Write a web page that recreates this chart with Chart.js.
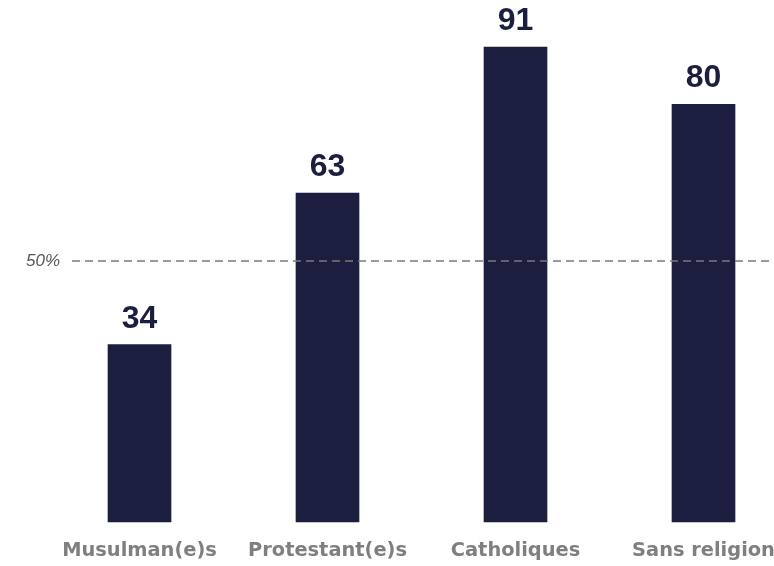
<!DOCTYPE html>
<html>
<head>
<meta charset="utf-8">
<script src="https://cdn.jsdelivr.net/npm/chart.js@4.4.1/dist/chart.umd.min.js"></script>
<style>
  html, body { margin: 0; padding: 0; background: #fff; }
  #wrap { width: 774px; height: 566px; }
</style>
</head>
<body>
<div id="wrap"><canvas id="myChart"></canvas></div>
<script>
// données
const categories = ['Musulman(e)s', 'Protestant(e)s', 'Catholiques', 'Sans religion'];
const values = [34, 63, 91, 80];
const refValue = 50;
const refLabel = '50%';

// ligne pointillée à 50% + étiquettes de valeur
const overlayPlugin = {
  id: 'overlay',
  afterDatasetsDraw(chart) {
    const { ctx, scales } = chart;
    const y = scales.y.getPixelForValue(refValue);
    ctx.save();
    ctx.strokeStyle = '#7a7a7a';
    ctx.lineWidth = 1.5;
    ctx.setLineDash([8, 5]);
    ctx.beginPath();
    ctx.moveTo(72, y);
    ctx.lineTo(chart.width, y);
    ctx.stroke();
    ctx.setLineDash([]);
    ctx.fillStyle = '#555555';
    ctx.font = 'italic 17px "Liberation Sans", Arial, sans-serif';
    ctx.textAlign = 'right';
    ctx.textBaseline = 'middle';
    ctx.fillText(refLabel, 60, y);

    const meta = chart.getDatasetMeta(0);
    ctx.fillStyle = '#1b1e3e';
    ctx.font = 'bold 32px "Liberation Sans", Arial, sans-serif';
    ctx.textAlign = 'center';
    ctx.textBaseline = 'alphabetic';
    meta.data.forEach((bar, i) => {
      ctx.fillText(String(values[i]), bar.x, bar.y - 17);
    });
    ctx.restore();
  }
};

document.addEventListener('DOMContentLoaded', () => {
  const ctx = document.getElementById('myChart');
  new Chart(ctx, {
    type: 'bar',
    data: {
      labels: categories,
      datasets: [{
        data: values,
        backgroundColor: '#1b1e3e',
        barThickness: 63,
        clip: false
      }]
    },
    options: {
      responsive: true,
      maintainAspectRatio: false,
      animation: false,
      layout: {
        padding: { left: 139.5, right: 70.5, top: 0, bottom: 6 }
      },
      plugins: {
        legend: { display: false },
        tooltip: { enabled: false }
      },
      scales: {
        x: {
          offset: false,
          afterFit(scale) {
            scale.height = 38;
            scale.paddingLeft = 0;
            scale.paddingRight = 0;
          },
          grid: { display: false, tickLength: 0 },
          border: { display: false },
          ticks: {
            autoSkip: false,
            maxRotation: 0,
            padding: 17,
            color: '#7f7f7f',
            font: { family: '"DejaVu Sans", sans-serif', size: 19.4, weight: 'bold' }
          }
        },
        y: {
          display: false,
          min: 0,
          max: 100
        }
      }
    },
    plugins: [overlayPlugin]
  });
});
</script>
</body>
</html>
